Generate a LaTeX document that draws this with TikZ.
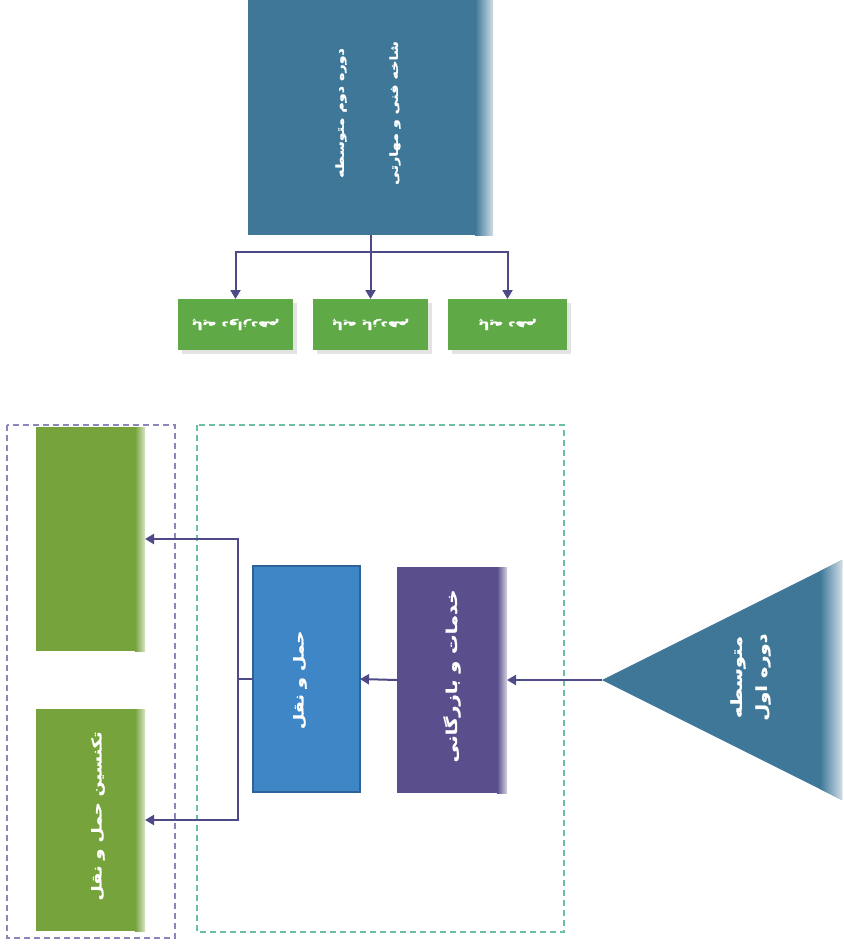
\documentclass[tikz,border=0pt]{standalone}
\usepackage{fontspec}
\newfontfamily\arabicfont[Script=Arabic,FakeStretch=1.3,BoldFeatures={FakeBold=1.2}]{DejaVu Sans}
\TeXXeTstate=1
\usetikzlibrary{arrows.meta}
\definecolor{steel}{HTML}{3F7799}
\definecolor{greenS}{HTML}{5FAA47}
\definecolor{olive}{HTML}{76A33C}
\definecolor{mblue}{HTML}{3F86C6}
\definecolor{mblueb}{HTML}{2D6399}
\definecolor{purp}{HTML}{5A4F8C}
\definecolor{arrowc}{HTML}{4E4A88}
\definecolor{lav}{HTML}{8A86B8}
\definecolor{teal}{HTML}{6BBFA5}
\tikzset{
  conn/.style={draw=arrowc, line width=2pt},
  arr/.style={conn, -{Triangle[length=9pt,width=10pt]}},
  box/.style={draw=none, inner sep=0pt, outer sep=0pt},
  lbl/.style={text=white, inner sep=0pt, rotate=90},
  dashbox/.style={dashed, dash pattern=on 6pt off 4pt, line width=1.1pt},
}
\begin{document}
\begin{tikzpicture}[x=1pt,y=1pt]
\useasboundingbox (0,0) rectangle (844,-946);
% top box
\node[box, fill=steel, minimum width=245pt, minimum height=235pt] (top) at (370.5,-117.5) {};
\shade[left color=steel, right color=steel!25!white] ([xshift=-18pt]top.north east) rectangle (top.south east);
\node[lbl, font=\arabicfont\bfseries\fontsize{11}{13}\selectfont] (t1) at (341,-113) {\beginR دوره دوم متوسطه\endR};
\node[lbl, font=\arabicfont\bfseries\fontsize{11}{13}\selectfont] (t2) at (395,-113) {\beginR شاخه فنی و مهارتی\endR};
% green small boxes
\foreach \cx/\w in {235.5/115, 370.5/115, 507.5/119}{
  \fill[gray!22] (\cx-\w/2+4,-303) rectangle (\cx+\w/2+4,-354);
}
\node[box, fill=greenS, minimum width=115pt, minimum height=51pt] (g1) at (235.5,-324.5) {};
\node[box, fill=greenS, minimum width=115pt, minimum height=51pt] (g2) at (370.5,-324.5) {};
\node[box, fill=greenS, minimum width=119pt, minimum height=51pt] (g3) at (507.5,-324.5) {};
\node[text=white, rotate=180, font=\arabicfont\bfseries\fontsize{11}{13}\selectfont] (g1t) at (g1) {\beginR پایه دوازدهم\endR};
\node[text=white, rotate=180, font=\arabicfont\bfseries\fontsize{11}{13}\selectfont] (g2t) at (g2) {\beginR پایه یازدهم\endR};
\node[text=white, rotate=180, font=\arabicfont\bfseries\fontsize{11}{13}\selectfont] (g3t) at (g3) {\beginR پایه دهم\endR};
\draw[conn] (top.south) -- ++(0,-17) coordinate (bar);
\draw[arr] (bar) -| (g1.north);
\draw[arr] (bar) -- (g2.north);
\draw[arr] (bar) -| (g3.north);
% dashed frames
\draw[dashbox, draw=teal] (197,-425) rectangle (564,-932);
\draw[dashbox, draw=lav] (7,-425) rectangle (175,-938);
% olive boxes
\node[box, fill=olive, minimum width=109pt, minimum height=224pt] (o1) at (90.5,-539) {};
\shade[left color=olive, right color=olive!30!white] ([xshift=-10pt]o1.north east) rectangle (o1.south east);
\node[box, fill=olive, minimum width=109pt, minimum height=222pt] (o2) at (90.5,-820) {};
\shade[left color=olive, right color=olive!30!white] ([xshift=-10pt]o2.north east) rectangle (o2.south east);
\node[lbl, font=\arabicfont\bfseries\fontsize{13.5}{16}\selectfont] (o2t) at (98,-816) {\beginR تکنسین حمل و نقل\endR};
% blue box
\node[box, fill=mblue, draw=mblueb, line width=2pt, minimum width=107pt, minimum height=226pt] (b) at (306.5,-679) {};
\node[lbl, font=\arabicfont\bfseries\fontsize{13.5}{16}\selectfont] (bt) at (300,-680) {\beginR حمل و نقل\endR};
% purple box
\node[box, fill=purp, minimum width=110pt, minimum height=226pt] (p) at (452,-680) {};
\shade[left color=purp, right color=purp!25!white] ([xshift=-10pt]p.north east) rectangle (p.south east);
\node[lbl, font=\arabicfont\bfseries\fontsize{15}{17}\selectfont] (pt) at (452,-676) {\beginR خدمات و بازرگانی\endR};
% triangle
\coordinate (tip) at (602,-680);
\coordinate (tr1) at (842,-560);
\coordinate (tr2) at (842,-800);
\fill[steel] (tip) -- (tr1) -- (tr2) -- cycle;
\shade[left color=steel, right color=steel!25!white] (820,-571) -- (842,-560) -- (842,-800) -- (820,-789) -- cycle;
\node[lbl, font=\arabicfont\bfseries\fontsize{15}{18}\selectfont] (tri1) at (763,-677) {\beginR دوره اول\endR};
\node[lbl, font=\arabicfont\bfseries\fontsize{15}{18}\selectfont] (tri2) at (738,-677) {\beginR متوسطه\endR};
% connectors
\draw[arr] (tip) -- (p.east);
\draw[arr] (p.west) -- (b.east);
\draw[conn] (b.west) -- ++(-15,0) coordinate (br);
\draw[arr] (br) |- (o1.east);
\draw[arr] (br) |- (o2.east);
\end{tikzpicture}
\end{document}
